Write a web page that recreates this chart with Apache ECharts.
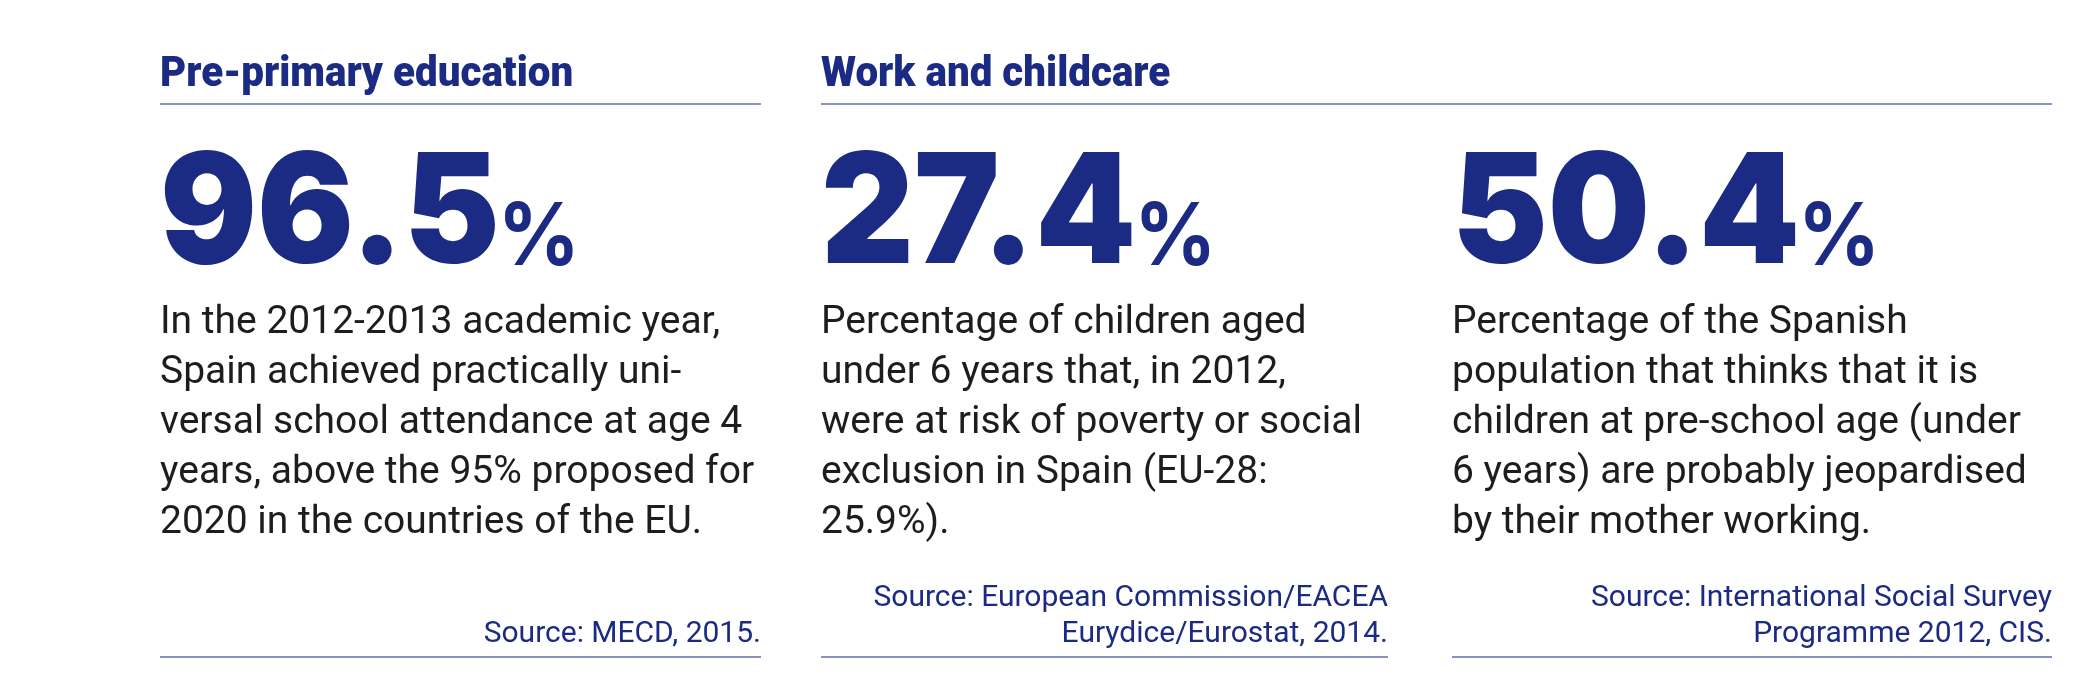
<!DOCTYPE html>
<html>
<head>
<meta charset="utf-8">
<title>Pre-primary education / Work and childcare</title>
<script src="https://cdn.jsdelivr.net/npm/echarts@6/dist/echarts.min.js"></script>
<style>
  html, body { margin: 0; padding: 0; background: #fff; }
  #main { width: 2093px; height: 690px; }
</style>
</head>
<body>
<div id="main"></div>
<script>
// section headings, one per group of columns
var sectionTitles = ['Pre-primary education', 'Work and childcare'];
// headline figures (%)
var headlineValues = [96.5, 27.4, 50.4];
// explanatory text under each figure, line by line as printed
var bodyLines = [
    ['In the 2012-2013 academic year,',
     'Spain achieved practically uni-',
     'versal school attendance at age 4',
     'years, above the 95% proposed for',
     '2020 in the countries of the EU.'],
    ['Percentage of children aged',
     'under 6 years that, in 2012,',
     'were at risk of poverty or social',
     'exclusion in Spain (EU-28:',
     '25.9%).'],
    ['Percentage of the Spanish',
     'population that thinks that it is',
     'children at pre-school age (under',
     '6 years) are probably jeopardised',
     'by their mother working.']
];
var sourceLines = [
    ['Source: MECD, 2015.'],
    ['Source: European Commission/EACEA', 'Eurydice/Eurostat, 2014.'],
    ['Source: International Social Survey', 'Programme 2012, CIS.']
];

var NAVY = '#1b2a82';
var RULE = '#8b93c4';
var INK = '#1d1d1b';

// layout of the three columns
var cols = [
    { left: 160, right: 761 },
    { left: 821, right: 1388 },
    { left: 1452, right: 2052 }
];
// section heading spans: first over column 1, second over columns 2-3
var sections = [
    { left: 160, right: 761 },
    { left: 821, right: 2052 }
];

var figFont = { size: 153, weight: 900, family: 'Inter', squeeze: 0.94 };
var pctFont = { size: 86, weight: 700, family: 'Inter' };

// width of the big figure, so the % sign can sit right after it
var measureCtx = document.createElement('canvas').getContext('2d');
function textWidth(str, f) {
    measureCtx.font = f.weight + ' ' + f.size + 'px ' + f.family;
    return measureCtx.measureText(str).width;
}

var chartEle = document.getElementById('main');
var myChart = echarts.init(chartEle, null, { renderer: 'canvas' });

function buildElements() {
    var elements = [];

    sections.forEach(function(s, i) {
        elements.push({
            type: 'text',
            x: s.left,
            y: 54,
            scaleX: 0.96,
            style: {
                text: sectionTitles[i],
                fill: NAVY,
                fontFamily: 'Roboto',
                fontWeight: 900,
                fontSize: 42,
                align: 'left',
                verticalAlign: 'top'
            }
        });
        elements.push({
            type: 'line',
            shape: { x1: s.left, y1: 104, x2: s.right, y2: 104 },
            style: { stroke: RULE, lineWidth: 2 }
        });
    });

    cols.forEach(function(c, i) {
        var label = headlineValues[i].toFixed(1);
        var w = textWidth(label, figFont) * figFont.squeeze;
        // big figure
        elements.push({
            type: 'text',
            x: c.left,
            y: 217,
            scaleX: figFont.squeeze,
            style: {
                text: label,
                fill: NAVY,
                fontFamily: figFont.family,
                fontWeight: figFont.weight,
                fontSize: figFont.size,
                align: 'left',
                verticalAlign: 'middle'
            }
        });
        // small percent sign on the same baseline
        elements.push({
            type: 'text',
            x: c.left + w - 2,
            y: 239,
            scaleX: figFont.squeeze,
            style: {
                text: '%',
                fill: NAVY,
                fontFamily: pctFont.family,
                fontWeight: pctFont.weight,
                fontSize: pctFont.size,
                align: 'left',
                verticalAlign: 'middle'
            }
        });
        // body text
        elements.push({
            type: 'text',
            x: c.left,
            y: 298,
            style: {
                text: bodyLines[i].join('\n'),
                fill: INK,
                fontFamily: 'Roboto',
                fontSize: 39,
                lineHeight: 50,
                align: 'left',
                verticalAlign: 'top'
            }
        });
        // source, right aligned, sitting on the bottom rule
        elements.push({
            type: 'text',
            x: c.right,
            y: 652,
            style: {
                text: sourceLines[i].join('\n'),
                fill: NAVY,
                fontFamily: 'Roboto',
                fontSize: 30,
                lineHeight: 36,
                align: 'right',
                verticalAlign: 'bottom'
            }
        });
        elements.push({
            type: 'line',
            shape: { x1: c.left, y1: 657, x2: c.right, y2: 657 },
            style: { stroke: RULE, lineWidth: 2 }
        });
    });
    return elements;
}

function draw() {
    myChart.setOption({
        backgroundColor: '#ffffff',
        animation: false,
        graphic: { elements: buildElements() }
    }, true);
}

draw();
// fonts are local, but make sure measurement uses the loaded face
if (document.fonts && document.fonts.ready) {
    document.fonts.ready.then(draw);
}

window.addEventListener('resize', function() {
    myChart.resize();
});
</script>
</body>
</html>
